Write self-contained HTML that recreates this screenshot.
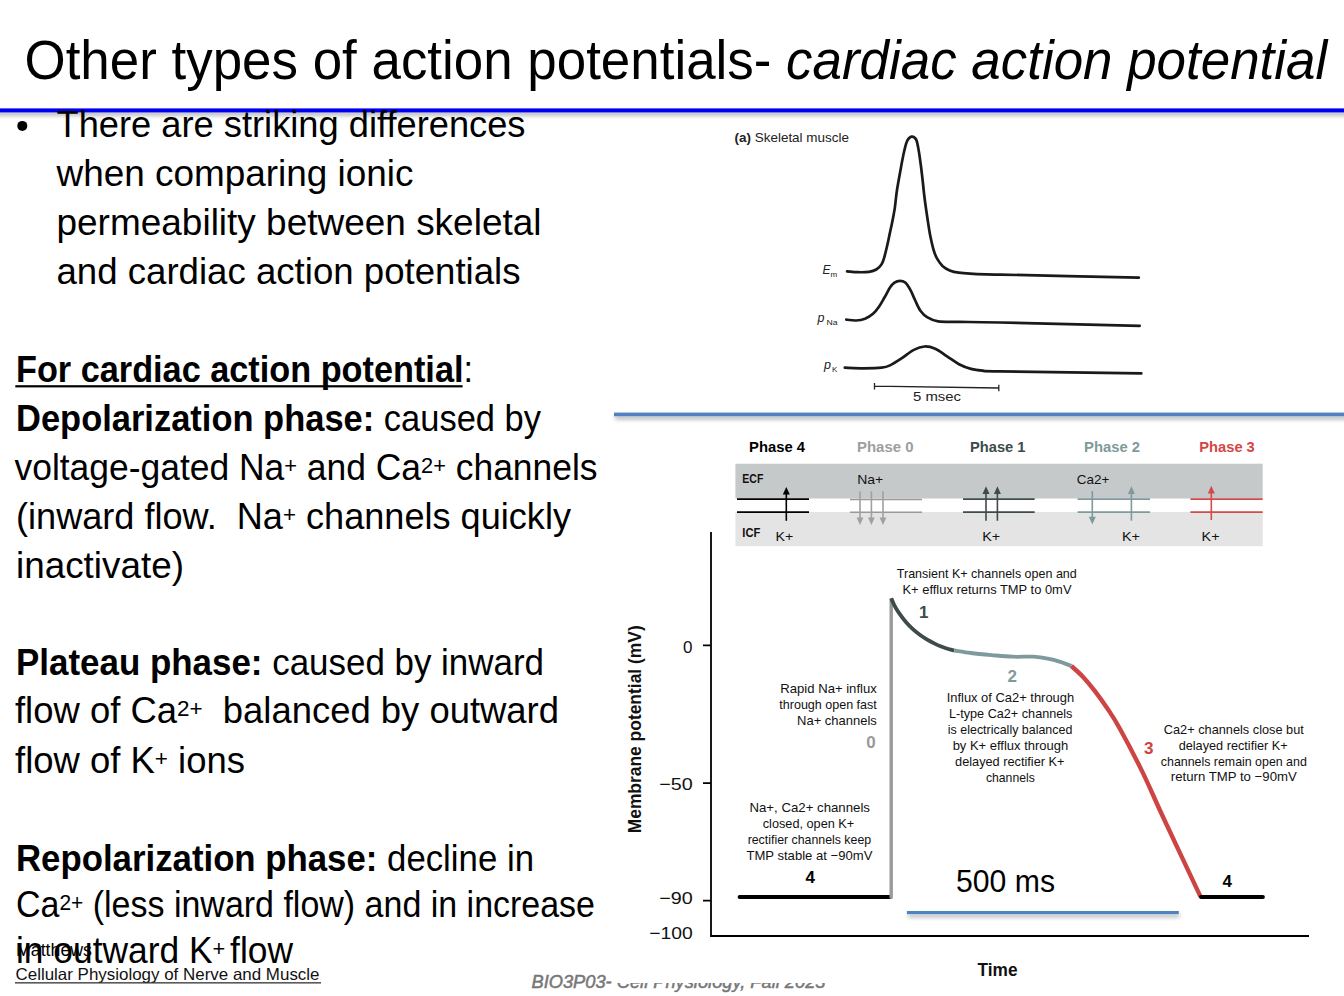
<!DOCTYPE html>
<html>
<head>
<meta charset="utf-8">
<style>
html,body{margin:0;padding:0;background:#fff;}
body{width:1344px;height:996px;overflow:hidden;position:relative;}
svg{position:absolute;left:0;top:0;font-family:"Liberation Sans",sans-serif;}
</style>
</head>
<body>
<svg width="1344" height="996" viewBox="0 0 1344 996">
<defs>
<filter id="sh" x="-5%" y="-200%" width="110%" height="500%">
<feGaussianBlur in="SourceAlpha" stdDeviation="1.9"/>
<feOffset dx="1" dy="3.2" result="b"/>
<feComponentTransfer><feFuncA type="linear" slope="0.32"/></feComponentTransfer>
<feMerge><feMergeNode/><feMergeNode in="SourceGraphic"/></feMerge>
</filter>
</defs>

<!-- TITLE -->
<text x="24.5" y="79" font-size="55.5" textLength="1302.7" lengthAdjust="spacingAndGlyphs" xml:space="preserve">Other types of action potentials- <tspan font-style="italic">cardiac action potential</tspan></text>

<!-- footer base texts (under figure) -->
<text x="531.5" y="987.8" font-size="18.7" font-style="italic" fill="#777777" stroke="#777777" stroke-width="0.5" textLength="294" lengthAdjust="spacingAndGlyphs" xml:space="preserve">BIO3P03- Cell Physiology, Fall 2023</text>

<!-- title underline -->
<g filter="url(#sh)"><rect x="-10" y="108.4" width="1360" height="4" fill="#0000ee"/></g>

<!-- BODY TEXT -->
<g id="body">
<circle cx="22.3" cy="125.9" r="5"/>
<text x="56.5" y="136.8" font-size="36.5" textLength="469" lengthAdjust="spacingAndGlyphs" xml:space="preserve">There are striking differences</text>
<text x="56.5" y="185.9" font-size="36.5" textLength="357" lengthAdjust="spacingAndGlyphs" xml:space="preserve">when comparing ionic</text>
<text x="56.5" y="234.7" font-size="36.5" textLength="485" lengthAdjust="spacingAndGlyphs" xml:space="preserve">permeability between skeletal</text>
<text x="56.5" y="283.9" font-size="36.5" textLength="464" lengthAdjust="spacingAndGlyphs" xml:space="preserve">and cardiac action potentials</text>
<text x="16" y="381.7" font-size="36.5" textLength="457" lengthAdjust="spacingAndGlyphs" xml:space="preserve"><tspan font-weight="bold">For cardiac action potential</tspan>:</text>
<rect x="15.3" y="385.2" width="447.3" height="2.2"/>
<text x="16" y="430.9" font-size="36.5" textLength="525" lengthAdjust="spacingAndGlyphs" xml:space="preserve"><tspan font-weight="bold">Depolarization phase:</tspan> caused by</text>
<text x="14.5" y="480" font-size="36.5" textLength="583" lengthAdjust="spacingAndGlyphs" xml:space="preserve">voltage-gated Na<tspan dy="-7" font-size="22.5">+</tspan><tspan dy="7"> and Ca</tspan><tspan dy="-7" font-size="22.5">2+</tspan><tspan dy="7"> channels</tspan></text>
<text x="16" y="529" font-size="36.5" textLength="555" lengthAdjust="spacingAndGlyphs" xml:space="preserve">(inward flow.  Na<tspan dy="-7" font-size="22.5">+</tspan><tspan dy="7"> channels quickly</tspan></text>
<text x="16" y="578" font-size="36.5" textLength="168" lengthAdjust="spacingAndGlyphs" xml:space="preserve">inactivate)</text>
<text x="16" y="675" font-size="36.5" textLength="528" lengthAdjust="spacingAndGlyphs" xml:space="preserve"><tspan font-weight="bold">Plateau phase:</tspan> caused by inward</text>
<text x="15" y="723.3" font-size="36.5" textLength="544" lengthAdjust="spacingAndGlyphs" xml:space="preserve">flow of Ca<tspan dy="-7" font-size="22.5">2+</tspan><tspan dy="7">  balanced by outward</tspan></text>
<text x="15" y="772.6" font-size="36.5" textLength="230" lengthAdjust="spacingAndGlyphs" xml:space="preserve">flow of K<tspan dy="-7" font-size="22.5">+</tspan><tspan dy="7"> ions</tspan></text>
<text x="16" y="871" font-size="36.5" textLength="518" lengthAdjust="spacingAndGlyphs" xml:space="preserve"><tspan font-weight="bold">Repolarization phase:</tspan> decline in</text>
<text x="16" y="916.9" font-size="36.5" textLength="579" lengthAdjust="spacingAndGlyphs" xml:space="preserve">Ca<tspan dy="-7" font-size="22.5">2+</tspan><tspan dy="7"> (less inward flow) and in increase</tspan></text>
<text x="16" y="962.5" font-size="36.5" textLength="277" lengthAdjust="spacingAndGlyphs" xml:space="preserve">in outward K<tspan dy="-7" font-size="22.5">+</tspan><tspan dy="7" dx="5">flow</tspan></text>
</g>

<!-- footer small texts -->
<text x="16" y="955.7" font-size="17.5" textLength="76" lengthAdjust="spacingAndGlyphs" xml:space="preserve">Matthews</text>
<text x="15.5" y="980.3" font-size="16.5" fill="#111" textLength="304" lengthAdjust="spacingAndGlyphs" xml:space="preserve">Cellular Physiology of Nerve and Muscle</text>
<rect x="15" y="982.2" width="306" height="1.3" fill="#333"/>


<!-- SKELETAL FIGURE -->
<g id="skel">

<text x="734.5" y="142.4" font-size="13" fill="#222" textLength="114.5" lengthAdjust="spacingAndGlyphs" xml:space="preserve"><tspan font-weight="bold">(a)</tspan> Skeletal muscle</text>
<g fill="none" stroke="#1a1a1a" stroke-width="2.7" stroke-linecap="round" stroke-linejoin="round">
<path d="M847.1,271.4 C848.9,271.5 854.4,272.1 858.0,272.2 C861.6,272.3 866.0,272.2 869.0,271.8 C872.0,271.4 874.2,270.8 876.3,269.5 C878.4,268.2 880.4,266.2 881.7,264.1 C883.1,262.0 883.5,259.8 884.4,256.8 C885.3,253.8 886.2,249.9 887.1,246.0 C888.0,242.1 888.9,237.6 889.8,233.4 C890.7,229.2 891.7,224.9 892.5,220.7 C893.3,216.5 894.0,213.2 894.8,208.1 C895.5,203.0 896.0,196.6 897.0,190.0 C898.0,183.4 899.6,175.0 900.8,168.4 C902.0,161.8 903.3,154.9 904.4,150.3 C905.5,145.7 906.1,142.9 907.3,140.6 C908.5,138.3 910.0,136.8 911.5,136.6 C913.0,136.4 914.9,137.3 916.1,139.5 C917.3,141.7 917.8,145.8 918.6,150.0 C919.4,154.2 920.1,160.0 920.8,165.0 C921.5,170.0 922.0,175.0 922.6,180.0 C923.2,185.0 923.6,190.0 924.2,195.0 C924.8,200.0 925.5,205.2 926.2,210.0 C926.9,214.8 927.6,219.7 928.3,224.0 C929.0,228.3 929.4,231.7 930.3,236.0 C931.2,240.3 932.4,245.8 933.5,249.6 C934.6,253.4 935.6,256.0 937.1,258.7 C938.6,261.4 940.4,263.9 942.5,265.9 C944.6,267.8 947.0,269.3 949.7,270.4 C952.4,271.5 955.4,272.2 958.8,272.7 C962.2,273.2 963.1,273.3 970.0,273.6 C976.9,273.9 971.9,273.9 1000.0,274.6 C1028.1,275.3 1115.7,277.1 1138.8,277.6"/>
<path d="M846.3,319.6 C847.9,319.8 853.0,320.6 856.1,320.5 C859.2,320.4 862.2,319.9 865.0,318.8 C867.8,317.6 870.6,315.9 873.0,313.8 C875.4,311.7 877.4,309.0 879.3,306.2 C881.2,303.5 882.8,300.4 884.6,297.3 C886.4,294.2 888.4,289.9 890.0,287.5 C891.6,285.1 892.9,283.7 894.5,282.6 C896.1,281.5 898.0,280.8 899.8,280.8 C901.6,280.8 903.4,281.0 905.2,282.6 C907.0,284.2 908.9,287.3 910.5,290.2 C912.1,293.1 913.4,296.6 915.0,300.0 C916.6,303.4 918.3,307.8 920.4,310.7 C922.5,313.6 924.5,315.6 927.5,317.4 C930.5,319.2 932.9,320.6 938.2,321.4 C943.6,322.1 949.3,321.7 959.6,321.9 C969.9,322.1 970.0,321.9 1000.0,322.5 C1030.0,323.1 1116.4,325.2 1139.7,325.8"/>
<path d="M844.8,367.7 C848.0,367.8 857.6,368.3 863.8,368.3 C869.9,368.3 877.3,368.2 881.7,367.7 C886.1,367.2 886.6,367.0 890.0,365.4 C893.4,363.8 897.9,360.8 901.9,358.2 C905.9,355.6 910.0,351.8 913.8,349.9 C917.6,347.9 920.9,346.7 924.5,346.5 C928.1,346.3 931.4,347.1 935.2,348.7 C939.0,350.3 943.1,353.8 947.1,356.4 C951.1,359.0 955.0,362.1 959.0,364.2 C963.0,366.3 967.0,367.8 971.0,368.9 C975.0,370.0 978.1,370.3 982.9,370.7 C987.6,371.1 973.1,370.9 999.5,371.3 C1025.9,371.8 1117.7,373.0 1141.3,373.4"/>
</g>
<g stroke="#222" stroke-width="1.3" fill="none">
<path d="M874.5,386.2 L998.8,388 M874.5,383 V389.5 M998.8,384.8 V391.2"/>
</g>
<text x="913" y="400.8" font-size="12.5" fill="#222" textLength="48" lengthAdjust="spacingAndGlyphs">5 msec</text>
<text x="822.5" y="273.5" font-size="12" font-style="italic" fill="#222">E</text>
<text x="830.5" y="277.3" font-size="8" fill="#222">m</text>
<text x="817.5" y="321.5" font-size="12.5" font-style="italic" fill="#222">p</text>
<text x="826.5" y="324.5" font-size="8" fill="#222" textLength="11" lengthAdjust="spacingAndGlyphs">Na</text>
<text x="824" y="369" font-size="12.5" font-style="italic" fill="#222">p</text>
<text x="832" y="372" font-size="8" fill="#222">K</text>
</g>

<!-- CARDIAC FIGURE -->
<rect x="614.5" y="417" width="730" height="566" fill="#fff"/>
<g filter="url(#sh)"><rect x="614" y="412.6" width="740" height="3.7" fill="#5181c0"/></g>

<g id="card">
<!-- phase headers -->
<g font-weight="bold" font-size="15">
<text x="749" y="451.8" fill="#000" textLength="56" lengthAdjust="spacingAndGlyphs">Phase 4</text>
<text x="857" y="451.8" fill="#9e9e9e" textLength="56.5" lengthAdjust="spacingAndGlyphs">Phase 0</text>
<text x="970" y="451.8" fill="#3d4b4b" textLength="55.5" lengthAdjust="spacingAndGlyphs">Phase 1</text>
<text x="1084" y="451.8" fill="#7f9a9c" textLength="56" lengthAdjust="spacingAndGlyphs">Phase 2</text>
<text x="1199.3" y="451.8" fill="#d64545" textLength="55.5" lengthAdjust="spacingAndGlyphs">Phase 3</text>
</g>
<rect x="735.4" y="463.7" width="527.3" height="34.8" fill="#c6c9ca"/>
<rect x="735.4" y="512" width="527.3" height="34.2" fill="#e4e4e4"/>
<g font-weight="bold" font-size="12" fill="#111">
<text x="742.3" y="482.9" textLength="21" lengthAdjust="spacingAndGlyphs">ECF</text>
<text x="742.3" y="537.1" textLength="18" lengthAdjust="spacingAndGlyphs">ICF</text>
</g>
<g font-size="13" fill="#111">
<text x="775.5" y="540.9" textLength="17.8" lengthAdjust="spacingAndGlyphs">K+</text>
<text x="857.2" y="483.6" textLength="26" lengthAdjust="spacingAndGlyphs">Na+</text>
<text x="982.2" y="540.9" textLength="18" lengthAdjust="spacingAndGlyphs">K+</text>
<text x="1076.8" y="483.6" textLength="32.5" lengthAdjust="spacingAndGlyphs">Ca2+</text>
<text x="1122" y="540.9" textLength="18" lengthAdjust="spacingAndGlyphs">K+</text>
<text x="1201.6" y="540.9" textLength="18" lengthAdjust="spacingAndGlyphs">K+</text>
</g>
<!-- membranes -->
<g stroke-width="1.7" fill="none">
<path stroke="#000" d="M737,499.2 H809 M737,512.1 H809"/>
<path stroke="#999" stroke-width="1.5" d="M850,499.4 H922 M850,512.3 H922"/>
<path stroke="#3d4b4b" d="M963,499.2 H1034.7 M963,512.1 H1034.7"/>
<path stroke="#7f9a9c" d="M1077.6,499.2 H1150 M1077.6,512.1 H1150"/>
<path stroke="#d44a4a" d="M1190.4,499.2 H1262.7 M1190.4,512.1 H1262.7"/>
</g>
<!-- arrows -->
<g stroke-width="1.6">
<path stroke="#000" d="M786.3,520.8 V493"/><path fill="#000" d="M782.8,494.5 L786.3,486.9 L789.8,494.5 Z"/>
<path stroke="#a0a0a0" d="M860,491.3 V519 M871.4,491.3 V519 M883,491.3 V519"/>
<path fill="#a0a0a0" d="M856.6,517.5 L860,525 L863.4,517.5 Z M868,517.5 L871.4,525 L874.8,517.5 Z M879.6,517.5 L883,525 L886.4,517.5 Z"/>
<path stroke="#3d4b4b" d="M986,520.8 V492 M997.4,520.8 V492"/>
<path fill="#3d4b4b" d="M982.5,494 L986,486.2 L989.5,494 Z M993.9,494 L997.4,486.2 L1000.9,494 Z"/>
<path stroke="#7f9a9c" d="M1092.3,491 V518 M1131.4,520.8 V492"/>
<path fill="#7f9a9c" d="M1088.8,516.8 L1092.3,524.4 L1095.8,516.8 Z M1127.9,494 L1131.4,486.2 L1134.9,494 Z"/>
<path stroke="#d44a4a" d="M1211.3,520 V492"/>
<path fill="#d44a4a" d="M1207.8,493.6 L1211.3,485.8 L1214.8,493.6 Z"/>
</g>

<!-- axes -->
<g stroke="#000" stroke-width="1.8" fill="none">
<path d="M711,532 V936 H1309"/>
<path d="M703,645.3 H711 M703,783.1 H711 M703,900.7 H711"/>
</g>
<g font-size="17" fill="#111" text-anchor="end">
<text x="692.5" y="652.5">0</text>
<text x="692.8" y="790.2" textLength="33.5" lengthAdjust="spacingAndGlyphs">−50</text>
<text x="692.8" y="904" textLength="33.5" lengthAdjust="spacingAndGlyphs">−90</text>
<text x="692.8" y="938.6" textLength="43.5" lengthAdjust="spacingAndGlyphs">−100</text>
</g>
<text transform="translate(641,833.3) rotate(-90)" x="0" y="0" font-size="19" font-weight="bold" fill="#111" textLength="208" lengthAdjust="spacingAndGlyphs">Membrane potential (mV)</text>
<text x="977.5" y="975.5" font-size="18.5" font-weight="bold" fill="#111" textLength="40" lengthAdjust="spacingAndGlyphs">Time</text>

<!-- curves -->
<g fill="none" stroke-linecap="round" stroke-linejoin="round">
<path stroke="#000" stroke-width="4" d="M739.6,897 H890"/>
<path stroke="#9a9a9a" stroke-width="3.4" stroke-linecap="butt" d="M891.2,898.5 V598"/>
<path stroke="#3d4b4b" stroke-width="3.8" stroke-linecap="butt" d="M891.3,598.4 C891.8,599.5 892.8,602.3 894.1,604.8 C895.4,607.3 897.1,610.3 899.1,613.2 C901.1,616.1 903.8,619.6 906.1,622.3 C908.4,625.0 910.8,627.3 913.1,629.4 C915.4,631.5 917.8,633.3 920.1,635.0 C922.5,636.7 924.9,638.2 927.2,639.6 C929.6,641.0 931.9,642.2 934.2,643.4 C936.5,644.6 938.9,645.7 941.2,646.6 C943.6,647.5 946.1,648.4 948.3,649.0 C950.5,649.6 953.2,650.2 954.2,650.5"/>
<path stroke="#7f9a9c" stroke-width="3.8" stroke-linecap="butt" d="M954.2,650.5 C957.0,650.9 964.5,652.2 970.8,653.0 C977.0,653.8 984.8,654.5 991.7,655.1 C998.7,655.7 1005.6,656.4 1012.5,656.7 C1019.4,657.0 1027.2,656.4 1033.3,656.7 C1039.4,657.0 1044.5,657.9 1049.0,658.8 C1053.5,659.6 1056.7,660.7 1060.4,661.9 C1064.1,663.1 1069.6,665.3 1071.4,666.0"/>
<path stroke="#cc4444" stroke-width="4.4" stroke-linecap="butt" d="M1071.4,666.0 C1073.4,667.8 1079.1,672.7 1083.1,676.9 C1087.0,681.1 1091.1,686.1 1095.1,691.3 C1099.1,696.5 1103.2,702.2 1107.2,708.2 C1111.2,714.2 1113.3,716.9 1119.2,727.5 C1125.1,738.1 1135.0,756.8 1142.5,772.1 C1150.0,787.4 1154.5,798.8 1164.2,819.5 C1173.9,840.2 1194.5,883.8 1200.5,896.6"/>
<path stroke="#000" stroke-width="4" d="M1201,897 H1262.9"/>
</g>
<g font-weight="bold" font-size="17">
<text x="919" y="617.5" fill="#3d4b4b">1</text>
<text x="1007.5" y="681.5" fill="#7f9a9c">2</text>
<text x="1144" y="754.4" fill="#cc4444">3</text>
<text x="866.3" y="747.6" fill="#9a9a9a">0</text>
<text x="805.5" y="883.3" fill="#000">4</text>
<text x="1222.5" y="886.9" fill="#000">4</text>
</g>

<!-- annotations -->
<g font-size="13" fill="#111">
<g text-anchor="middle">
<text x="986.8" y="578.4" textLength="180" lengthAdjust="spacingAndGlyphs">Transient K+ channels open and</text>
<text x="987" y="594" textLength="169" lengthAdjust="spacingAndGlyphs">K+ efflux returns TMP to 0mV</text>
</g>
<g text-anchor="end">
<text x="876.8" y="692.6" textLength="96.5" lengthAdjust="spacingAndGlyphs">Rapid Na+ influx</text>
<text x="876.8" y="708.7" textLength="97.5" lengthAdjust="spacingAndGlyphs">through open fast</text>
<text x="876.8" y="724.8" textLength="79.7" lengthAdjust="spacingAndGlyphs">Na+ channels</text>
</g>
<g text-anchor="middle">
<text x="1010.4" y="702" textLength="127.5" lengthAdjust="spacingAndGlyphs">Influx of Ca2+ through</text>
<text x="1010.7" y="717.9" textLength="123.5" lengthAdjust="spacingAndGlyphs">L-type Ca2+ channels</text>
<text x="1010.1" y="733.8" textLength="124.5" lengthAdjust="spacingAndGlyphs">is electrically balanced</text>
<text x="1010.4" y="749.6" textLength="115.5" lengthAdjust="spacingAndGlyphs">by K+ efflux through</text>
<text x="1009.8" y="765.7" textLength="109.5" lengthAdjust="spacingAndGlyphs">delayed rectifier K+</text>
<text x="1010.4" y="781.8" textLength="49" lengthAdjust="spacingAndGlyphs">channels</text>
</g>
<g text-anchor="middle">
<text x="1233.8" y="734" textLength="140" lengthAdjust="spacingAndGlyphs">Ca2+ channels close but</text>
<text x="1233.2" y="749.8" textLength="109" lengthAdjust="spacingAndGlyphs">delayed rectifier K+</text>
<text x="1233.8" y="765.8" textLength="146" lengthAdjust="spacingAndGlyphs">channels remain open and</text>
<text x="1233.8" y="781.4" textLength="126" lengthAdjust="spacingAndGlyphs">return TMP to −90mV</text>
</g>
<g text-anchor="middle">
<text x="809.7" y="812.1" textLength="120.5" lengthAdjust="spacingAndGlyphs">Na+, Ca2+ channels</text>
<text x="808.5" y="828" textLength="91.5" lengthAdjust="spacingAndGlyphs">closed, open K+</text>
<text x="809.4" y="844.1" textLength="123.5" lengthAdjust="spacingAndGlyphs">rectifier channels keep</text>
<text x="809.4" y="860.2" textLength="126" lengthAdjust="spacingAndGlyphs">TMP stable at −90mV</text>
</g>
</g>

<text x="956" y="892" font-size="30.7" fill="#000" textLength="99" lengthAdjust="spacingAndGlyphs">500 ms</text>
<g filter="url(#sh)"><rect x="906.9" y="911" width="271.9" height="3.2" fill="#5181c0"/></g>
</g>

</svg>
</body>
</html>
